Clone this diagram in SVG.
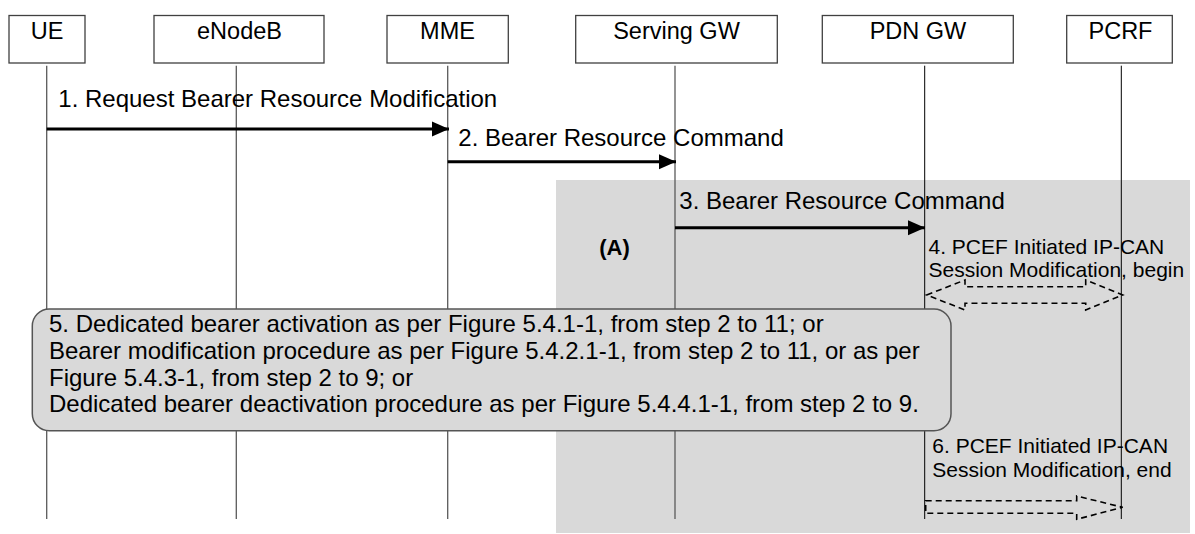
<svg xmlns="http://www.w3.org/2000/svg" width="1195" height="534" viewBox="0 0 1195 534">
<style>
.box{fill:#fff;stroke:#404040;stroke-width:1.3}
.life{stroke:#5a5a5a;stroke-width:1.3}
.life2{stroke:#000;stroke-width:1}
.lbl{font-family:"Liberation Sans",Arial,sans-serif;font-size:23.5px;fill:#000;text-anchor:middle}
.msg{font-family:"Liberation Sans",Arial,sans-serif;font-size:24px;fill:#000}
.small{font-family:"Liberation Sans",Arial,sans-serif;font-size:21px;fill:#000}
.bold{font-family:"Liberation Sans",Arial,sans-serif;font-size:22px;font-weight:bold;fill:#000}
.solid{stroke:#000;stroke-width:3;fill:none}
.dash{fill:none;stroke:#000;stroke-width:1.6;stroke-dasharray:6 4}
.note{fill:#d9d9d9;stroke:#555;stroke-width:1.5}
</style>
<defs>
<marker id="ah" markerUnits="userSpaceOnUse" markerWidth="18" markerHeight="16" refX="17" refY="8" orient="auto"><path d="M0,0.5 L17,8 L0,15.5 z" fill="#000"/></marker>
</defs>
<rect id="regionA" x="556" y="180" width="634" height="353" fill="#d9d9d9"/>
<g id="ue">
<rect class="box" x="9" y="15.5" width="76" height="47.5"/>
<text class="lbl" x="47" y="39">UE</text>
<line class="life" x1="46.7" y1="65.7" x2="46.7" y2="519"/>
</g>
<g id="enodeb">
<rect class="box" x="154" y="15.5" width="170" height="47.5"/>
<text class="lbl" x="239.5" y="39">eNodeB</text>
<line class="life" x1="236.3" y1="65.7" x2="236.3" y2="519"/>
</g>
<g id="mme">
<rect class="box" x="387" y="15.5" width="121.3" height="47.5"/>
<text class="lbl" x="447.5" y="39">MME</text>
<line class="life" x1="447.7" y1="65.7" x2="447.7" y2="519"/>
</g>
<g id="sgw">
<rect class="box" x="575.7" y="15.5" width="201.6" height="47.5"/>
<text class="lbl" x="676.5" y="39">Serving GW</text>
<line class="life" x1="675" y1="65.7" x2="675" y2="519"/>
</g>
<g id="pgw">
<rect class="box" x="822.3" y="15.5" width="191" height="47.5"/>
<text class="lbl" x="918" y="39">PDN GW</text>
<line class="life2" x1="924.7" y1="65.7" x2="924.7" y2="519"/>
</g>
<g id="pcrf">
<rect class="box" x="1066.7" y="15.5" width="105.6" height="47.5"/>
<text class="lbl" x="1120.5" y="39">PCRF</text>
<line class="life2" x1="1121.3" y1="65.7" x2="1121.3" y2="519"/>
</g>
<g id="connectors">
<line class="solid" x1="46.7" y1="129" x2="449" y2="129" marker-end="url(#ah)"/>
<text class="msg" x="58.3" y="106.7">1. Request Bearer Resource Modification</text>
<line class="solid" x1="447.7" y1="161.7" x2="676" y2="161.7" marker-end="url(#ah)"/>
<text class="msg" x="458.3" y="146">2. Bearer Resource Command</text>
<line class="solid" x1="675" y1="227.7" x2="925" y2="227.7" marker-end="url(#ah)"/>
<text class="msg" x="679.3" y="209">3. Bearer Resource Command</text>
<polygon class="dash" points="926.7,295 965,280 965,286.7 1085.7,286.7 1085.7,280 1122.7,295 1085.7,310 1085.7,303.3 965,303.3 965,310"/>
<text class="small" x="928.5" y="254">4. PCEF Initiated IP-CAN</text>
<text class="small" x="928.5" y="277">Session Modification, begin</text>
<polygon class="dash" points="925.7,500.7 1076.7,500.7 1076.7,496 1122.7,507.3 1076.7,519.3 1076.7,513.3 925.7,513.3"/>
<text class="small" x="932.3" y="452.7">6. PCEF Initiated IP-CAN</text>
<text class="small" x="932.3" y="476.7">Session Modification, end</text>
</g>
<text id="labelA" class="bold" x="599.3" y="255">(A)</text>
<g id="step5">
<rect class="note" x="32.3" y="309" width="918.7" height="121.7" rx="17" ry="17"/>
<text class="msg" x="49" y="331.5">5. Dedicated bearer activation as per Figure 5.4.1-1, from step 2 to 11; or</text>
<text class="msg" x="49" y="358.5">Bearer modification procedure as per Figure 5.4.2.1-1, from step 2 to 11, or as per</text>
<text class="msg" x="49" y="385.5">Figure 5.4.3-1, from step 2 to 9; or</text>
<text class="msg" x="49" y="412.3">Dedicated bearer deactivation procedure as per Figure 5.4.4.1-1, from step 2 to 9.</text>
</g>
</svg>
